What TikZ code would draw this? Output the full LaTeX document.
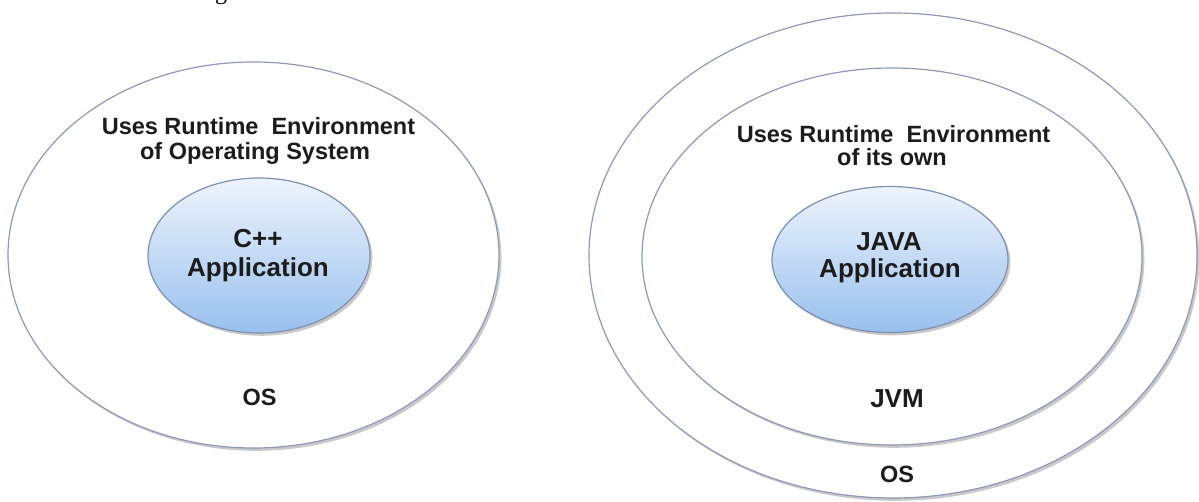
\documentclass[tikz,border=0pt]{standalone}
\usepackage{fontspec}
\setmainfont{Liberation Sans}
\newfontfamily\seriffont{Liberation Serif}
\usetikzlibrary{shapes.geometric,shadows}
\definecolor{ringc}{HTML}{8E99B6}
\definecolor{innerdraw}{HTML}{7E90B0}
\definecolor{innertop}{HTML}{EEF4FC}
\definecolor{innerbot}{HTML}{98C0EE}
\definecolor{textc}{HTML}{1C1C1C}
\begin{document}
\begin{tikzpicture}[x=0.5pt,y=-0.5pt,
  ring/.style={ellipse, draw=ringc, line width=0.6pt, fill=white, inner sep=0pt,
    drop shadow={shadow xshift=1.2pt, shadow yshift=-1.4pt, opacity=0.35, fill=black!60}},
  app/.style={ellipse, draw=innerdraw, line width=0.6pt, inner sep=0pt,
    top color=innertop, bottom color=innerbot,
    drop shadow={shadow xshift=1.2pt, shadow yshift=-1.4pt, opacity=0.35, fill=black!60}},
  lbl/.style={anchor=base, inner sep=0pt, text=textc, font=\fontsize{11.75pt}{14pt}\selectfont\bfseries},
  biglbl/.style={anchor=base, inner sep=0pt, text=textc, font=\fontsize{13pt}{15pt}\selectfont\bfseries}
]
\useasboundingbox[fill=white] (0,0) rectangle (1199,502);

% fragment of text above the picture
\node[anchor=base, inner sep=0pt, font=\seriffont\fontsize{12pt}{14pt}\selectfont] (frag) at (221,0) {g};

% left: C++ on OS
\node[ring, minimum width=245.5pt, minimum height=193pt] (os1) at (253.5,255) {};
\node[app, minimum width=111pt, minimum height=77.5pt] (cpp) at (259,255.5) {};
\node[lbl] (t1a) at (258.5,135) {Uses Runtime\ \ Environment};
\node[lbl] (t1b) at (255,160) {of Operating System};
\node[biglbl] (c1) at (258,248) {C++};
\node[biglbl] (c2) at (258,277) {Application};
\node[lbl] (os1l) at (259.5,405) {OS};

% right: JAVA on JVM on OS
\node[ring, minimum width=304pt, minimum height=242.5pt] (os2) at (893,255.5) {};
\node[ring, minimum width=250pt, minimum height=188.5pt] (jvm) at (892,256.5) {};
\node[app, minimum width=118pt, minimum height=73pt] (java) at (890,259.5) {};
\node[lbl] (t2a) at (893.5,143) {Uses Runtime\ \ Environment};
\node[lbl] (t2b) at (892,166) {of its own};
\node[biglbl] (j1) at (889,250) {JAVA};
\node[biglbl] (j2) at (890,278) {Application};
\node[biglbl] (jvml) at (897,407) {JVM};
\node[lbl] (os2l) at (897,482) {OS};
\end{tikzpicture}
\end{document}
